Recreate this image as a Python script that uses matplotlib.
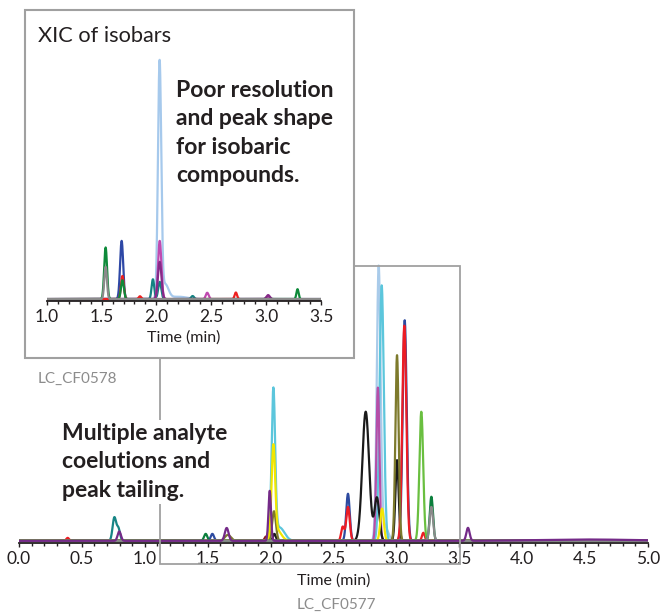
import numpy as np
import matplotlib
matplotlib.use('Agg')
import matplotlib.pyplot as plt
from matplotlib.patches import Rectangle
from matplotlib.ticker import MultipleLocator

# Peak tables: (retention time [min], height [% of tallest], sigma [min])
# Main chromatogram (LC_CF0577)
main_lightblue = [(2.859, 100.0, 0.015), (2.90, 6.0, 0.03)]
main_cyan      = [(2.022, 54.6, 0.014), (2.07, 5.0, 0.04), (2.883, 95.0, 0.017)]
main_magenta   = [(2.853, 57.0, 0.012)]
main_black     = [(2.030, 2.6, 0.011), (2.756, 48.0, 0.027), (2.845, 16.0, 0.019), (3.005, 30.0, 0.013)]
main_blue      = [(1.537, 2.6, 0.013), (2.615, 17.5, 0.014), (3.066, 82.0, 0.016)]
main_red       = [(0.387, 1.1, 0.011), (2.573, 5.2, 0.012), (2.615, 12.6, 0.014),
                  (3.063, 80.0, 0.016), (3.214, 3.0, 0.011)]
main_olive     = [(1.660, 2.2, 0.024), (2.027, 11.0, 0.015), (3.005, 69.0, 0.013)]
main_yellow    = [(2.022, 33.0, 0.014), (2.05, 4.0, 0.035), (2.886, 12.0, 0.014)]
main_green     = [(3.198, 48.0, 0.015)]
main_darkgreen = [(1.484, 2.6, 0.013), (3.278, 16.4, 0.013)]
main_gray      = [(3.278, 12.6, 0.014)]
main_purple    = [(0.797, 3.5, 0.013), (1.651, 4.8, 0.015), (1.993, 18.6, 0.010),
                  (3.569, 4.8, 0.013), (4.50, 0.5, 0.40)]
main_teal      = [(0.758, 8.6, 0.014), (0.790, 4.5, 0.013)]
main_darkred   = [(1.963, 1.6, 0.011)]

# Inset chromatogram (LC_CF0578, XIC of isobars)
xic_lightblue = [(2.029, 100.0, 0.015), (2.08, 6.0, 0.03), (2.20, 1.0, 0.08)]
xic_magenta   = [(2.030, 24.7, 0.015), (2.463, 2.7, 0.013), (3.018, 1.0, 0.015)]
xic_purple    = [(2.030, 15.8, 0.016), (3.018, 1.7, 0.015)]
xic_blue      = [(1.683, 24.7, 0.014)]
xic_green     = [(1.537, 21.9, 0.013), (1.690, 8.0, 0.013), (3.286, 4.2, 0.010)]
xic_gray      = [(1.537, 13.7, 0.012)]
xic_red       = [(1.690, 9.8, 0.013), (1.850, 1.2, 0.011), (2.724, 2.8, 0.011)]
xic_teal      = [(1.968, 8.4, 0.012), (2.030, 7.3, 0.014), (2.330, 1.3, 0.013)]

W, H = 661, 613


def trace(t, peaks):
    y = np.zeros_like(t)
    for c, h, s in peaks:
        y += h * np.exp(-0.5 * ((t - c) / s) ** 2)
    return y


def px_box(x0, y0, x1, y1):
    # pixel box (top-left origin) -> figure fraction [left, bottom, width, height]
    return [x0 / W, 1 - y1 / H, (x1 - x0) / W, (y1 - y0) / H]


def style_axis(ax, fs):
    for s in ['top', 'right', 'left']:
        ax.spines[s].set_visible(False)
    ax.spines['bottom'].set_color('#231f20')
    ax.spines['bottom'].set_linewidth(1.3)
    ax.set_yticks([])
    ax.xaxis.set_major_locator(MultipleLocator(0.5))
    ax.xaxis.set_minor_locator(MultipleLocator(0.1))
    ax.tick_params(axis='x', which='major', length=3, width=1, color='#231f20',
                   labelsize=fs, labelcolor='#231f20', pad=3)
    ax.tick_params(axis='x', which='minor', length=2, width=1, color='#231f20')
    ax.set_facecolor('none')


plt.rcParams['font.family'] = ['Lato', 'DejaVu Sans']

fig = plt.figure(figsize=(W / 100, H / 100), dpi=100)

# ---- main chromatogram
ax = fig.add_axes(px_box(19, 250, 648, 543))
t = np.linspace(0, 5, 4001)
main_traces = [(main_darkred, '#8b1a1a'), (main_teal, '#178585'),
               (main_lightblue, '#a9cbea'), (main_cyan, '#5cc6dc'), (main_magenta, '#b64ea8'),
               (main_black, '#1a1a1a'), (main_blue, '#2d4aa0'), (main_red, '#ed1c24'),
               (main_olive, '#7d7a2c'), (main_yellow, '#f2e600'), (main_green, '#6abf40'),
               (main_darkgreen, '#0b7f3c'), (main_gray, '#8a8a8a'), (main_purple, '#742a88')]
for peaks, col in main_traces:
    ax.plot(t, trace(t, peaks), color=col, lw=1.6)
ax.set_xlim(0, 5)
ax.set_ylim(-0.8, 108.1)
style_axis(ax, 12.5)
ax.set_xlabel('Time (min)', fontsize=11.5, color='#231f20', labelpad=4)

# zoom region outline
fig.add_artist(Rectangle((160 / W, 1 - 564 / H), 300 / W, 298 / H, transform=fig.transFigure,
                         fill=False, edgecolor='#a0a0a0', lw=1.3, zorder=1))

fig.text(62 / W, 1 - 423 / H, 'Multiple analyte\ncoelutions and\npeak tailing.',
         fontsize=16.5, fontweight='bold', color='#231f20',
         va='top', ha='left', linespacing=1.44, zorder=1.5,
         bbox=dict(facecolor='white', edgecolor='none', pad=2))
fig.text(336 / W, 1 - 605 / H, 'LC_CF0577', fontsize=11, color='#8c8c8c', ha='center', va='center')

# ---- inset
fig.add_artist(Rectangle((25 / W, 1 - 358 / H), 329 / W, 348 / H, transform=fig.transFigure,
                         facecolor='white', edgecolor='#a0a0a0', lw=1.5, zorder=2))
axi = fig.add_axes(px_box(46.7, 50, 321, 300.5), zorder=3)
ti = np.linspace(1.0, 3.5, 2501)
xic_traces = [(xic_lightblue, '#a6c9ec'), (xic_teal, '#138282'), (xic_magenta, '#c04ab0'),
              (xic_purple, '#862a88'), (xic_blue, '#2e48a6'), (xic_red, '#ee2020'),
              (xic_green, '#0e8a3a'), (xic_gray, '#8a8a8a')]
for peaks, col in xic_traces:
    axi.plot(ti, trace(ti, peaks), color=col, lw=1.6)
axi.set_xlim(1.0, 3.5)
axi.set_ylim(-0.6, 105.7)
style_axis(axi, 12.5)
axi.set_xlabel('Time (min)', fontsize=11.5, color='#231f20', labelpad=4)

fig.text(38 / W, 1 - 36 / H, 'XIC of isobars', fontsize=15.7,
         color='#231f20', va='center', ha='left', zorder=4)
fig.text(176 / W, 1 - 80 / H, 'Poor resolution\nand peak shape\nfor isobaric\ncompounds.',
         fontsize=16.5, fontweight='bold', color='#231f20',
         va='top', ha='left', linespacing=1.44, zorder=4)
fig.text(38 / W, 1 - 379 / H, 'LC_CF0578', fontsize=11, color='#8c8c8c', ha='left', va='center')

fig.savefig('out.png', dpi=100)
